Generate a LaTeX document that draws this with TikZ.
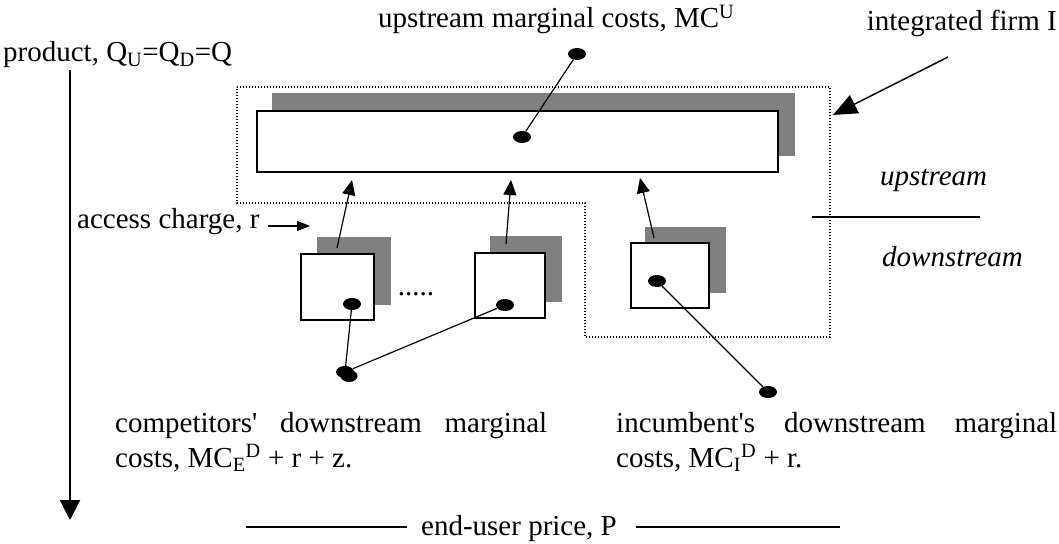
\documentclass[tikz,border=0pt]{standalone}
\usepackage{fontspec}
\setmainfont{Liberation Serif}
\usetikzlibrary{arrows.meta,shapes.geometric}
\begin{document}
\begin{tikzpicture}[x=1pt,y=-1pt,
  txt/.style={inner sep=0pt, font=\fontsize{29}{35}\selectfont},
  itxt/.style={inner sep=0pt, font=\fontsize{29}{35}\selectfont\itshape},
  shade/.style={fill=gray, draw=none, inner sep=0pt, outer sep=0pt, anchor=north west},
  panel/.style={draw=black, line width=2pt, fill=white, inner sep=0pt, outer sep=0pt, anchor=north west},
  dot/.style={ellipse, fill=black, minimum width=18pt, minimum height=12pt, inner sep=0pt},
  link/.style={line width=1.2pt},
  feed/.style={line width=1.2pt, -{Triangle[length=15pt,width=13pt]}},
  firmline/.style={line width=1.3pt, dash pattern=on 1.3pt off 1.7pt},
]
\useasboundingbox (0,0) rectangle (1059,543);

% integrated firm outline
\draw[firmline] (237,87) -- (830,87) -- (830,337) -- (585,337) -- (585,203) -- (237,203) -- cycle;

% upstream box
\node[shade, minimum width=523pt, minimum height=63pt] (bigshade) at (272,93) {};
\node[panel, minimum width=521pt, minimum height=61pt] (big) at (257,111) {};

% downstream boxes
\node[shade, minimum width=74pt, minimum height=68pt] (s1) at (317,237) {};
\node[panel, minimum width=73pt, minimum height=66pt] (b1) at (301,254) {};
\node[shade, minimum width=72pt, minimum height=66pt] (s2) at (490,236) {};
\node[panel, minimum width=70pt, minimum height=65pt] (b2) at (475,253) {};
\node[shade, minimum width=81pt, minimum height=66pt] (s3) at (645,227) {};
\node[panel, minimum width=78pt, minimum height=65pt] (b3) at (631,243) {};

% access arrows
\coordinate (a1) at (337,248); \coordinate (t1) at (352,180);
\coordinate (a2) at (506,244); \coordinate (t2) at (511,180);
\coordinate (a3) at (654,238); \coordinate (t3) at (640,178);
\draw[feed] (a1) -- (t1);
\draw[feed] (a2) -- (t2);
\draw[feed] (a3) -- (t3);

% dots
\node[dot] (dU) at (577,54) {};
\node[dot] (dB) at (522,137) {};
\node[dot] (d1) at (352,304) {};
\node[dot] (d2) at (505,305) {};
\node[dot] (d3) at (657,281) {};
\node[dot] (dE) at (345,372) {};
\fill (349,376) ellipse (8.5pt and 6pt);
\node[dot] (dI) at (768,392) {};
\draw[link] (dU) -- (dB);
\draw[link] (d1) -- (dE);
\draw[link] (d2) -- (dE);
\draw[link] (d3) -- (dI);

% labels
\node[txt, anchor=base west] (mcu) at (378,28) {upstream marginal costs, MC\textsuperscript{U}};
\node[txt, anchor=base east] (firmlbl) at (1057,31) {integrated firm I};
\node[txt, anchor=base west] (prod) at (3,62) {product, Q\textsubscript{U}=Q\textsubscript{D}=Q};
\node[txt, anchor=base west] (acc) at (77,228) {access charge, r};
\node[itxt, anchor=base west] (up) at (880,185) {upstream};
\node[itxt, anchor=base west] (down) at (882,266) {downstream};
\node[txt, anchor=base] (more) at (416,295) {.....};

\node[txt, anchor=base west, text width=432pt, align=justify] (comp) at (115,432)
  {competitors\textquotesingle{} downstream marginal costs, MC\textsubscript{E}\textsuperscript{D} + r + z.};
\node[txt, anchor=base west, text width=441pt, align=justify] (inc) at (616,432)
  {incumbent\textquotesingle{}s downstream marginal costs, MC\textsubscript{I}\textsuperscript{D} + r.};

\node[txt, anchor=base] (price) at (519,535) {end-user price, P};

% product axis
\coordinate (ps) at (70,70); \coordinate (pe) at (70,520);
\draw[line width=2pt, -{Triangle[length=20pt,width=20pt]}] (ps) -- (pe);

% firm arrow
\coordinate (fs) at (948,57); \coordinate (ft) at (833,115);
\draw[line width=1.5pt, -{Triangle[length=24pt,width=20pt]}] (fs) -- (ft);

% access charge arrow
\coordinate (accs) at (268,226); \coordinate (acct) at (310,226);
\draw[line width=1.2pt, -{Triangle[length=13pt,width=10pt]}] (accs) -- (acct);

% upstream / downstream divider
\coordinate (dl) at (812,217); \coordinate (dr) at (980,217);
\draw[line width=1.5pt] (dl) -- (dr);

% price rules
\coordinate (pl) at (246,527); \coordinate (pr) at (840,527);
\draw[line width=1.5pt] (pl) -- ([xshift=-14pt]price.west |- pl);
\draw[line width=1.5pt] ([xshift=19pt]price.east |- pr) -- (pr);
\end{tikzpicture}
\end{document}
